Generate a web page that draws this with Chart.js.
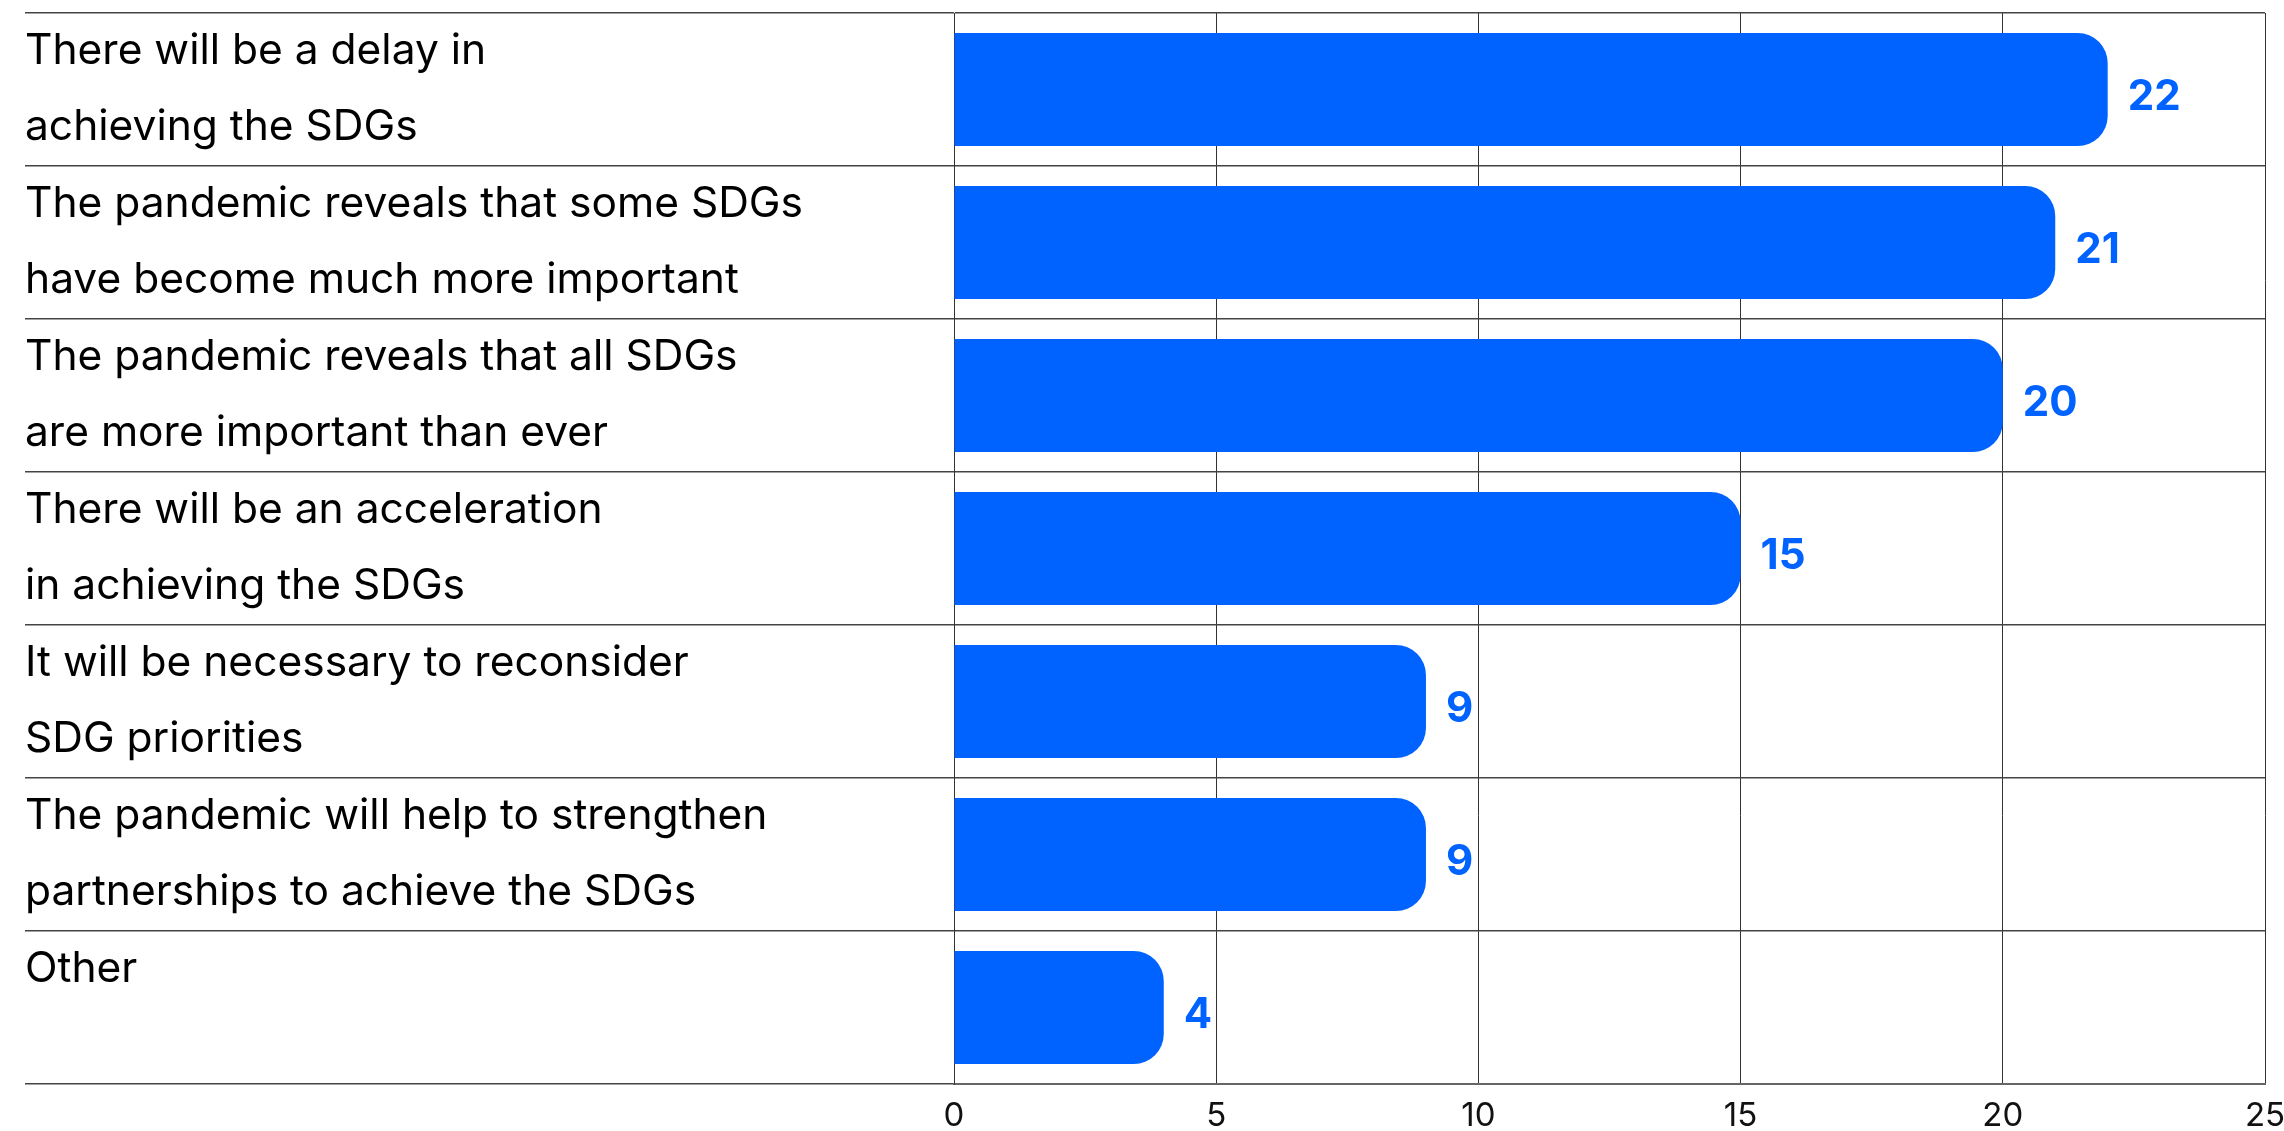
<!DOCTYPE html>
<html>
<head>
<meta charset="utf-8">
<script src="https://cdn.jsdelivr.net/npm/chart.js@4/dist/chart.umd.min.js"></script>
<style>
  html, body { margin: 0; padding: 0; background: #fff; }
  #wrap { width: 2284px; height: 1131px; position: relative; }
</style>
</head>
<body>
<div id="wrap"><canvas id="chart"></canvas></div>
<script>
var labels = [
  ["There will be a delay in", "achieving the SDGs"],
  ["The pandemic reveals that some SDGs", "have become much more important"],
  ["The pandemic reveals that all SDGs", "are more important than ever"],
  ["There will be an acceleration", "in achieving the SDGs"],
  ["It will be necessary to reconsider", "SDG priorities"],
  ["The pandemic will help to strengthen", "partnerships to achieve the SDGs"],
  ["Other", ""]
];
var values = [22, 21, 20, 15, 9, 9, 4];
var xTicks = [0, 5, 10, 15, 20, 25];

var blue = "#0063ff";

// numbers at the end of each bar
var valueLabels = {
  id: "valueLabels",
  afterDatasetsDraw: function(chart){
    var ctx = chart.ctx;
    var meta = chart.getDatasetMeta(0);
    ctx.save();
    ctx.font = "bold 42px Inter";
    ctx.fillStyle = blue;
    ctx.textAlign = "left";
    ctx.textBaseline = "middle";
    meta.data.forEach(function(bar, i){
      ctx.fillText(values[i], bar.x + 20, bar.y + 8);
    });
    ctx.restore();
  }
};

var graph = document.getElementById("chart");

var g = new Chart(graph, {
  type: "bar",
  data: {
    labels: labels,
    datasets: [{
      data: values,
      backgroundColor: blue,
      borderRadius: 30,
      borderSkipped: "start",
      barPercentage: 0.74,
      categoryPercentage: 1
    }]
  },
  options: {
    indexAxis: "y",
    responsive: true,
    maintainAspectRatio: false,
    animation: false,
    layout: { padding: { left: 25, top: 13, right: 19, bottom: 0 } },
    plugins: {
      legend: { display: false },
      tooltip: { enabled: false }
    },
    scales: {
      x: {
        min: xTicks[0],
        max: xTicks[xTicks.length - 1],
        afterBuildTicks: function(scale){
          scale.ticks = xTicks.map(function(v){ return { value: v }; });
        },
        grid: { color: "#333", lineWidth: 1, drawTicks: false },
        border: { color: "#666", width: 2 },
        ticks: { color: "#111", padding: 12, autoSkip: false, maxRotation: 0, font: { family: "Inter", size: 33 } },
        afterFit: function(scale){
          scale.height = 47;
          scale.paddingLeft = 0;
          scale.paddingRight = 0;
        }
      },
      y: {
        grid: { color: "#444", lineWidth: 1.5, tickLength: 929, offset: true },
        border: { color: "#333", width: 1 },
        ticks: {
          autoSkip: false,
          crossAlign: "far",
          color: "#000",
          padding: 0,
          font: { family: "Inter", size: 42.5, lineHeight: "76px" }
        },
        afterFit: function(scale){
          scale.width = 929;
          scale.paddingTop = 0;
          scale.paddingBottom = 0;
        }
      }
    }
  },
  plugins: [valueLabels]
});
</script>
</body>
</html>
